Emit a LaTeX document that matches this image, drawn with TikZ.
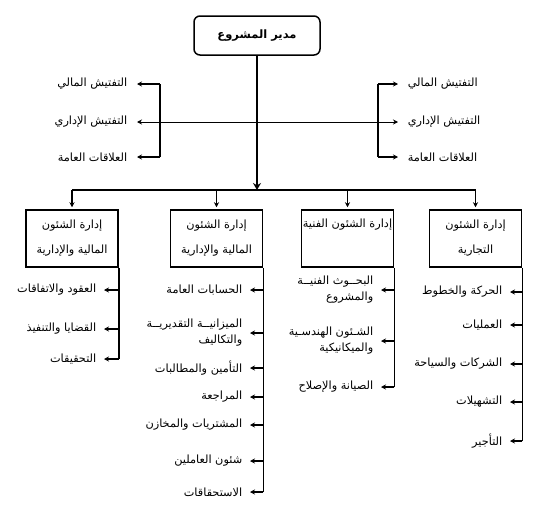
\documentclass[tikz,border=0pt]{standalone}
\usepackage{fontspec}
\newfontfamily\arabicfont[Script=Arabic]{DejaVu Sans}
\TeXXeTstate=1
\usetikzlibrary{positioning,arrows.meta}
\newcommand{\ar}[1]{{\arabicfont\beginR #1\endR}}

\begin{document}
\begin{tikzpicture}[x=1pt,y=-1pt,->,>={Stealth[length=5pt,width=5pt]},line width=1.5pt]
\tikzstyle{every node}=[font=\fontsize{11.3}{16}\selectfont]
\tikzstyle{dept}=[draw,line width=1.5pt,minimum width=92pt,minimum height=57pt,inner xsep=1pt,align=center]
\tikzstyle{item}=[inner xsep=7pt,inner ysep=1pt,align=right]
\useasboundingbox (0,0) rectangle (549,506);

% manager and inspection
\node[draw,rounded corners=6pt,minimum width=126pt,minimum height=39pt,font=\fontsize{11.5}{14}\selectfont\bfseries] (mgr) at (257,35.5) {\ar{مدير المشروع}};

\node[item,anchor=east,inner xsep=9pt] (ll1) at (137,84) {\ar{التفتيش المالي}};
\node[item,anchor=east,inner xsep=9pt] (ll2) at (137,122) {\ar{التفتيش الإداري}};
\node[item,anchor=east,inner xsep=9pt] (ll3) at (137,157) {\ar{العلاقات العامة}};
\node[item,anchor=west,inner xsep=9pt] (rl1) at (398,84) {\ar{التفتيش المالي}};
\node[item,anchor=west,inner xsep=9pt] (rl2) at (398,122) {\ar{التفتيش الإداري}};
\node[item,anchor=west,inner xsep=9pt] (rl3) at (398,157) {\ar{العلاقات العامة}};

\coordinate (lj) at (160,122);
\coordinate (rj) at (378,122);
\coordinate (bus) at (257,190);

% departments
\node[dept] (b1) at (72,238.5) {\ar{إدارة الشئون}\\[9pt]\ar{المالية والإدارية}};
\node[dept] (b2) at (216.5,238.5) {\ar{إدارة الشئون}\\[9pt]\ar{المالية والإدارية}};
\node[dept] (b3) at (347.5,238.5) {\ar{إدارة الشئون الفنية}\\[9pt]\strut};
\node[dept] (b4) at (475.5,238.5) {\ar{إدارة الشئون}\\[9pt]\ar{التجارية}};

% sections
\node[item,anchor=east] (c1a) at (104,290) {\ar{العقود والاتفاقات}};
\node[item,anchor=east] (c1b) at (104,329) {\ar{القضايا والتنفيذ}};
\node[item,anchor=east] (c1c) at (104,359) {\ar{التحقيقات}};

\node[item,anchor=east] (c2a) at (250,290) {\ar{الحسابات العامة}};
\node[item,anchor=east] (c2b) at (250,333) {\ar{الميزانيــة التقديريــة}\\\ar{والتكاليف}};
\node[item,anchor=east] (c2c) at (250,368) {\ar{التأمين والمطالبات}};
\node[item,anchor=east] (c2d) at (250,397) {\ar{المراجعة}};
\node[item,anchor=east] (c2e) at (250,425) {\ar{المشتريات والمخازن}};
\node[item,anchor=east] (c2f) at (250,461) {\ar{شئون العاملين}};
\node[item,anchor=east] (c2g) at (250,492) {\ar{الاستحقاقات}};

\node[item,anchor=east] (c3a) at (381,290) {\ar{البحــوث الفنيــة}\\\ar{والمشروع}};
\node[item,anchor=east] (c3b) at (381,341) {\ar{الشـئون الهندسـية}\\\ar{والميكانيكية}};
\node[item,anchor=east] (c3c) at (381,387) {\ar{الصيانة والإصلاح}};

\node[item,anchor=east] (c4a) at (510,292) {\ar{الحركة والخطوط}};
\node[item,anchor=east] (c4b) at (510,325) {\ar{العمليات}};
\node[item,anchor=east] (c4c) at (510,364) {\ar{الشركات والسياحة}};
\node[item,anchor=east] (c4d) at (510,402) {\ar{التشهيلات}};
\node[item,anchor=east] (c4e) at (510,441) {\ar{التأجير}};

% top connectors
\draw[->,line width=2.5pt,>={Stealth[length=7pt,width=8pt]}] (mgr) -- (bus);
\draw[<->,line width=0.9pt] (ll2) -- (rl2);
\draw[-] (ll1 -| lj) -- (ll3 -| lj);
\draw (ll1 -| lj) -- (ll1);
\draw (ll3 -| lj) -- (ll3);
\draw[-] (rl1 -| rj) -- (rl3 -| rj);
\draw (rl1 -| rj) -- (rl1);
\draw (rl3 -| rj) -- (rl3);

\draw[-,line width=1.7pt] (b1.north |- bus) -- (b4.north |- bus);
\draw[shorten >=2pt] (b1.north |- bus) -- (b1);
\draw[shorten >=2pt] (b2.north |- bus) -- (b2);
\draw[shorten >=2pt] (b3.north |- bus) -- (b3);
\draw[shorten >=2pt] (b4.north |- bus) -- (b4);

% section connectors
\draw[-] (b1.south east) -- (b1.south east |- c1c);
\draw (b1.south east |- c1a) -- (c1a);
\draw (b1.south east |- c1b) -- (c1b);
\draw (b1.south east |- c1c) -- (c1c);

\draw[-] (b2.south east) -- (b2.south east |- c2g);
\draw (b2.south east |- c2a) -- (c2a);
\draw (b2.south east |- c2b) -- (c2b);
\draw (b2.south east |- c2c) -- (c2c);
\draw (b2.south east |- c2d) -- (c2d);
\draw (b2.south east |- c2e) -- (c2e);
\draw (b2.south east |- c2f) -- (c2f);
\draw (b2.south east |- c2g) -- (c2g);

\draw[-] (b3.south east) -- (b3.south east |- c3c);
\draw (b3.south east |- c3a) -- (c3a);
\draw (b3.south east |- c3b) -- (c3b);
\draw (b3.south east |- c3c) -- (c3c);

\draw[-] (b4.south east) -- (b4.south east |- c4e);
\draw (b4.south east |- c4a) -- (c4a);
\draw (b4.south east |- c4b) -- (c4b);
\draw (b4.south east |- c4c) -- (c4c);
\draw (b4.south east |- c4d) -- (c4d);
\draw (b4.south east |- c4e) -- (c4e);
\end{tikzpicture}
\end{document}
